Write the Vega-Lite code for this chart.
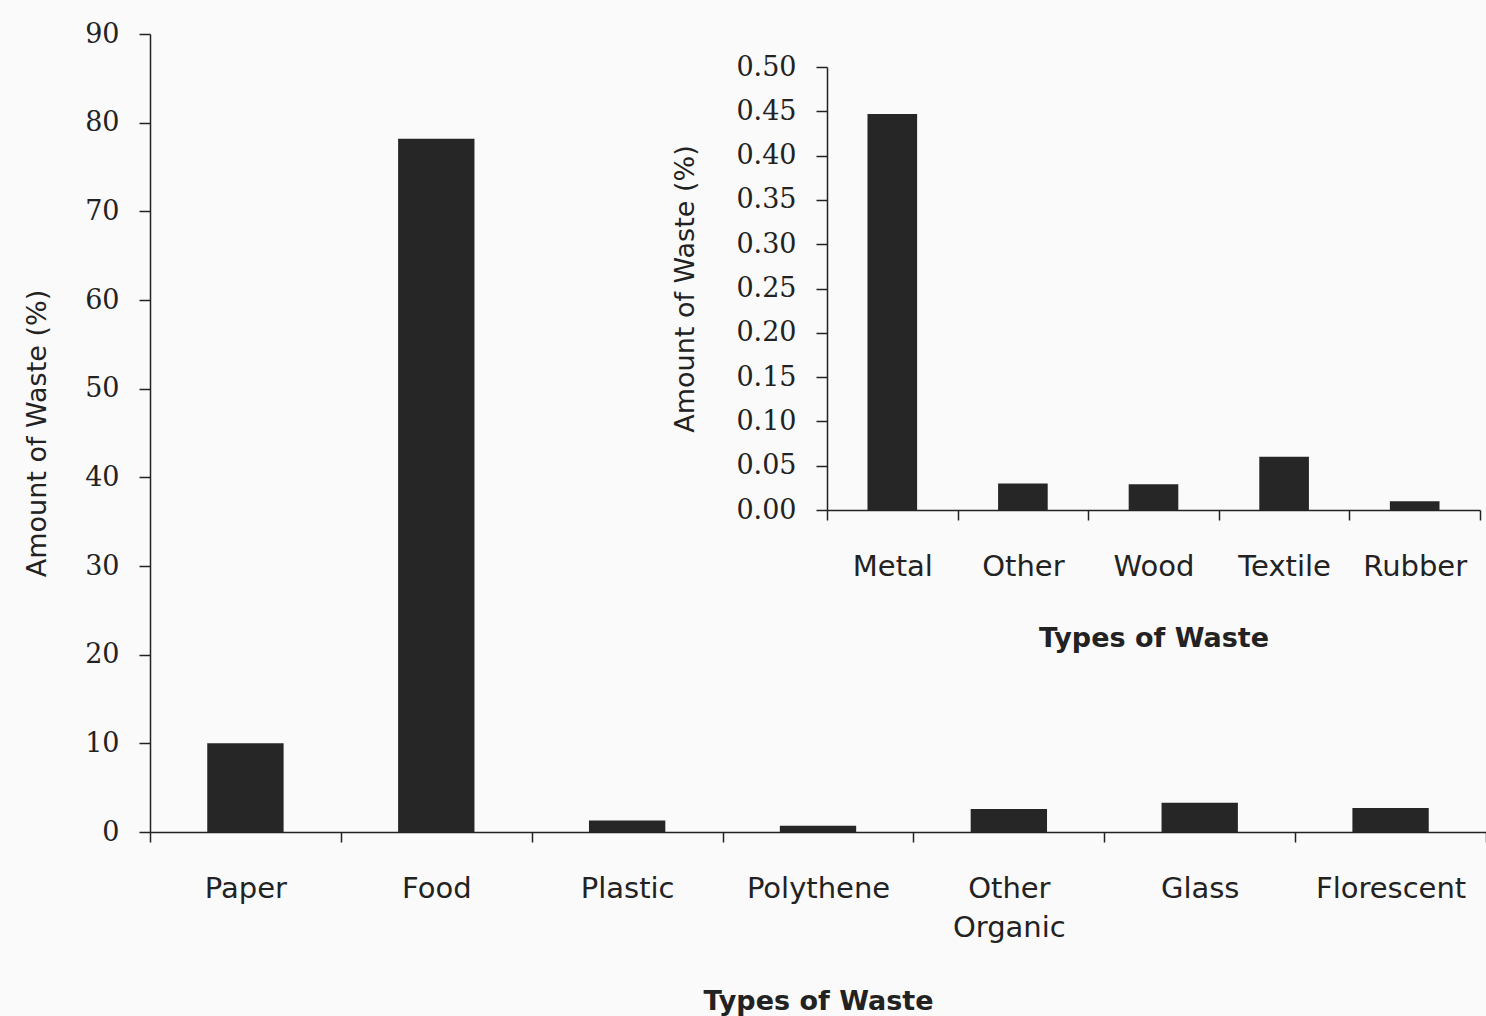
{
  "$schema": "https://vega.github.io/schema/vega-lite/v6.json",
  "width": 1336,
  "height": 798,
  "autosize": "none",
  "padding": {"left": 150, "top": 34, "right": 0, "bottom": 184},
  "background": "#fafafa",
  "datasets": {
    "main": [
      {"type": "Paper", "amount": 10.0},
      {"type": "Food", "amount": 78.2},
      {"type": "Plastic", "amount": 1.3},
      {"type": "Polythene", "amount": 0.7},
      {"type": "Other Organic", "amount": 2.6},
      {"type": "Glass", "amount": 3.3},
      {"type": "Florescent", "amount": 2.7}
    ],
    "inset": [
      {"type": "Metal", "amount": 0.447},
      {"type": "Other", "amount": 0.030},
      {"type": "Wood", "amount": 0.029},
      {"type": "Textile", "amount": 0.060},
      {"type": "Rubber", "amount": 0.010}
    ]
  },
  "config": {
    "view": {"stroke": null},
    "axis": {
      "grid": false,
      "domainColor": "#222222",
      "tickColor": "#222222",
      "labelColor": "#222222",
      "titleColor": "#222222",
      "domainWidth": 1.5,
      "tickWidth": 1.5
    }
  },
  "layer": [
    {
      "data": {"name": "main"},
      "mark": {"type": "bar", "color": "#262626", "width": {"band": 0.4}},
      "encoding": {
        "x": {
          "field": "type",
          "type": "nominal",
          "sort": null,
          "scale": {"paddingInner": 0, "paddingOuter": 0},
          "axis": {
            "orient": "bottom",
            "labelAngle": 0,
            "labelFont": "DejaVu Sans",
            "labelFontSize": 29,
            "labelLineHeight": 39,
            "labelExpr": "datum.value == 'Other Organic' ? ['Other', 'Organic'] : datum.label",
            "tickSize": 10,
            "labelPadding": 32,
            "tickBand": "extent",
            "title": "Types of Waste",
            "titleFont": "DejaVu Sans",
            "titleFontWeight": "bold",
            "titleFontSize": 27,
            "titlePadding": 46
          }
        },
        "y": {
          "field": "amount",
          "type": "quantitative",
          "scale": {"domain": [0, 90]},
          "axis": {
            "orient": "left",
            "values": [0, 10, 20, 30, 40, 50, 60, 70, 80, 90],
            "labelFont": "DejaVu Serif",
            "labelFontSize": 27,
            "tickSize": 11,
            "labelPadding": 20,
            "title": "Amount of Waste (%)",
            "titleFont": "DejaVu Sans",
            "titleFontWeight": "normal",
            "titleFontSize": 27,
            "titlePadding": 33
          }
        }
      }
    },
    {
      "data": {"name": "inset"},
      "mark": {"type": "bar", "color": "#262626", "width": {"band": 0.38}},
      "encoding": {
        "x": {
          "field": "type",
          "type": "nominal",
          "sort": null,
          "scale": {"paddingInner": 0, "paddingOuter": 0, "range": [677, 1330]},
          "axis": {
            "orient": "bottom",
            "offset": -322,
            "labelAngle": 0,
            "labelFont": "DejaVu Sans",
            "labelFontSize": 29,
            "tickSize": 10,
            "labelPadding": 32,
            "tickBand": "extent",
            "title": "Types of Waste",
            "titleFont": "DejaVu Sans",
            "titleFontWeight": "bold",
            "titleFontSize": 27,
            "titlePadding": 44
          }
        },
        "y": {
          "field": "amount",
          "type": "quantitative",
          "scale": {"domain": [0, 0.5], "range": [476, 33]},
          "axis": {
            "orient": "left",
            "offset": -677,
            "values": [0, 0.05, 0.1, 0.15, 0.2, 0.25, 0.3, 0.35, 0.4, 0.45, 0.5],
            "format": ".2f",
            "labelFont": "DejaVu Serif",
            "labelFontSize": 27,
            "tickSize": 11,
            "labelPadding": 20,
            "title": "Amount of Waste (%)",
            "titleFont": "DejaVu Sans",
            "titleFontWeight": "normal",
            "titleFontSize": 27,
            "titlePadding": 36
          }
        }
      }
    }
  ],
  "resolve": {"scale": {"x": "independent", "y": "independent"}}
}
